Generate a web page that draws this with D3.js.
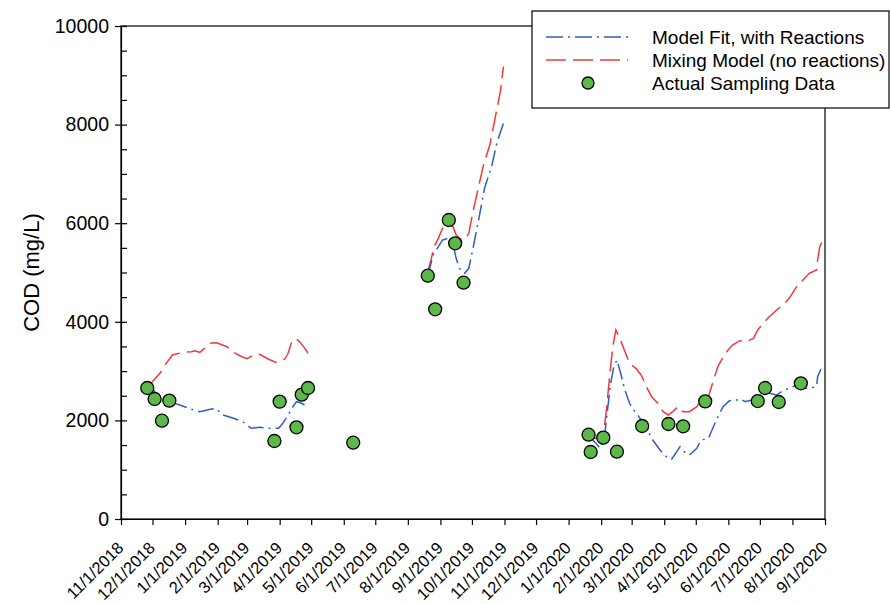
<!DOCTYPE html>
<html>
<head>
<meta charset="utf-8">
<script src="https://cdn.jsdelivr.net/npm/d3@7"></script>
<style>
  body { margin: 0; background: #fff; }
  svg text { font-family: "Liberation Sans", Arial, sans-serif; fill: #000; }
</style>
</head>
<body>
<div class="chart"></div>
<script>
// sampled COD values
var sampleDates = ["2018-11-26","2018-12-03","2018-12-10","2018-12-17","2019-03-27","2019-04-01","2019-04-17","2019-04-22","2019-04-28","2019-06-10",
    "2019-08-20","2019-08-27","2019-09-09","2019-09-15","2019-09-23",
    "2020-01-20","2020-01-22","2020-02-03","2020-02-16","2020-03-11","2020-04-05","2020-04-19","2020-05-10","2020-06-29","2020-07-06","2020-07-19","2020-08-09"];
var sampleCOD = [2657,2434,1994,2400,1582,2380,1860,2522,2657,1548,
    4935,4254,6065,5592,4793,
    1710,1359,1650,1365,1886,1927,1880,2387,2393,2657,2373,2753];

// model fit, with reactions (three runs)
var fitDates = [
    ["2018-11-27","2018-11-30","2018-12-08","2018-12-17","2018-12-27","2019-01-07","2019-01-15","2019-01-25","2019-01-30","2019-02-06","2019-02-16","2019-02-25","2019-03-05","2019-03-13","2019-03-23","2019-03-31","2019-04-04","2019-04-08","2019-04-11","2019-04-14","2019-04-17","2019-04-22","2019-04-27","2019-04-28"],
    ["2019-08-20","2019-08-25","2019-08-30","2019-09-03","2019-09-08","2019-09-13","2019-09-16","2019-09-19","2019-09-24","2019-09-28","2019-10-02","2019-10-07","2019-10-13","2019-10-20","2019-10-25","2019-10-31"],
    ["2020-01-20","2020-01-27","2020-01-31","2020-02-04","2020-02-07","2020-02-10","2020-02-13","2020-02-16","2020-02-20","2020-02-23","2020-02-28","2020-03-04","2020-03-09","2020-03-15","2020-03-21","2020-03-28","2020-04-03","2020-04-08","2020-04-13","2020-04-16","2020-04-20","2020-04-25","2020-05-02","2020-05-06","2020-05-13","2020-05-22","2020-05-27","2020-06-02","2020-06-09","2020-06-13","2020-06-17","2020-06-23","2020-06-29","2020-07-04","2020-07-10","2020-07-17","2020-07-23","2020-07-29","2020-08-05","2020-08-11","2020-08-17","2020-08-24","2020-08-25","2020-08-28","2020-09-01"]
];
var fitCOD = [
    [2657,2651,2481,2380,2312,2225,2177,2225,2245,2110,2042,1974,1840,1860,1840,1840,1941,2075,2177,2292,2380,2347,2278,2245],
    [4935,5355,5523,5659,5693,5558,5288,5085,4984,5085,5491,6030,6708,7180,7653,8026],
    [1700,1535,1434,1636,2211,2752,3090,3225,2921,2651,2347,2177,2042,1840,1602,1400,1264,1211,1365,1467,1365,1298,1434,1602,1636,2075,2278,2400,2414,2434,2380,2414,2481,2583,2549,2515,2603,2651,2718,2651,2651,2684,2887,3036,3050]
];

// mixing model, no reactions (three runs)
var mixDates = [
    ["2018-11-27","2018-11-30","2018-12-08","2018-12-14","2018-12-20","2018-12-30","2019-01-07","2019-01-10","2019-01-15","2019-01-25","2019-01-31","2019-02-10","2019-02-16","2019-02-24","2019-03-01","2019-03-07","2019-03-13","2019-03-21","2019-03-28","2019-04-01","2019-04-06","2019-04-09","2019-04-12","2019-04-16","2019-04-20","2019-04-25","2019-04-28"],
    ["2019-08-20","2019-08-23","2019-08-26","2019-08-30","2019-09-03","2019-09-08","2019-09-13","2019-09-16","2019-09-21","2019-09-25","2019-09-28","2019-10-02","2019-10-07","2019-10-12","2019-10-18","2019-10-23","2019-10-28","2019-10-31"],
    ["2020-01-20","2020-01-26","2020-01-31","2020-02-03","2020-02-06","2020-02-09","2020-02-12","2020-02-15","2020-02-18","2020-02-23","2020-02-28","2020-03-05","2020-03-10","2020-03-15","2020-03-20","2020-03-26","2020-03-31","2020-04-05","2020-04-09","2020-04-14","2020-04-19","2020-04-25","2020-05-02","2020-05-06","2020-05-13","2020-05-18","2020-05-22","2020-05-29","2020-06-05","2020-06-12","2020-06-18","2020-06-25","2020-06-29","2020-07-04","2020-07-10","2020-07-17","2020-07-23","2020-07-29","2020-08-05","2020-08-11","2020-08-17","2020-08-24","2020-08-25","2020-08-27","2020-08-30","2020-09-01"]
];
var mixCOD = [
    [2700,2765,2955,3158,3327,3381,3394,3414,3381,3564,3576,3495,3381,3292,3252,3327,3341,3245,3179,3191,3245,3361,3564,3665,3597,3462,3361],
    [5017,5254,5523,5693,5896,5963,5929,5761,5659,5693,5795,6233,6708,7180,7586,8128,8667,9175],
    [1704,1636,1636,1704,2211,2886,3495,3834,3698,3428,3158,3057,2921,2684,2481,2347,2177,2110,2177,2278,2177,2177,2278,2414,2481,2819,3090,3361,3529,3617,3597,3665,3834,3969,4104,4239,4341,4477,4712,4848,4984,5051,5254,5523,5659,5700]
];

var yTicks = [0, 2000, 4000, 6000, 8000, 10000];
var legendLabels = ["Model Fit, with Reactions", "Mixing Model (no reactions)", "Actual Sampling Data"];

var svgWidth = 890;
var svgHeight = 604;
var margin = { top: 26, right: 65, bottom: 85, left: 121 };
var width = svgWidth - margin.left - margin.right;
var height = svgHeight - margin.top - margin.bottom;

var blue = "#2f5fbf";
var red = "#f03a3a";
var green = "#5cb848";

var parseDate = d3.timeParse("%Y-%m-%d");

var svg = d3.select(".chart")
    .append("svg")
    .attr("width", svgWidth)
    .attr("height", svgHeight);

var chartGroup = svg.append("g")
    .attr("transform", `translate(${margin.left}, ${margin.top})`);

var xScale = d3.scaleTime()
    .domain([parseDate("2018-11-01"), parseDate("2020-09-01")])
    .range([0, width]);

var yScale = d3.scaleLinear()
    .domain([0, 10000])
    .range([height, 0]);

// frame
chartGroup.append("rect")
    .attr("width", width)
    .attr("height", height)
    .attr("fill", "none")
    .attr("stroke", "#000")
    .attr("stroke-width", 1.2);

// x axis
var bottomAxis = d3.axisBottom(xScale)
    .ticks(d3.timeMonth.every(1))
    .tickFormat(d3.timeFormat("%-m/%-d/%Y"))
    .tickSizeInner(6)
    .tickSizeOuter(0);

var xAxis = chartGroup.append("g")
    .attr("transform", `translate(0, ${height})`)
    .call(bottomAxis);
xAxis.select(".domain").attr("stroke-width", 1.2);
xAxis.selectAll(".tick line").attr("stroke-width", 1.2);
xAxis.selectAll("text")
    .style("font-size", "16.5px")
    .attr("text-anchor", "end")
    .attr("x", 0)
    .attr("y", 0)
    .attr("dy", 0)
    .attr("transform", "translate(3, 30) rotate(-45)");

// y axis: minor ticks inside, major ticks crossing
var yMinor = d3.axisRight(yScale)
    .tickValues(d3.range(0, 10001, 500))
    .tickSize(6)
    .tickFormat("");
chartGroup.append("g").call(yMinor)
    .call(g => g.select(".domain").remove())
    .selectAll("line").attr("stroke-width", 1.2);

var leftAxis = d3.axisLeft(yScale)
    .tickValues(yTicks)
    .tickFormat(d3.format("d"))
    .tickSizeInner(6)
    .tickSizeOuter(0)
    .tickPadding(6);
var yAxis = chartGroup.append("g").call(leftAxis);
yAxis.select(".domain").attr("stroke-width", 1.2);
yAxis.selectAll(".tick line").attr("stroke-width", 1.2);
yAxis.selectAll("text").style("font-size", "19.5px");

// y axis label
chartGroup.append("text")
    .attr("transform", "rotate(-90)")
    .attr("x", -height / 2)
    .attr("y", -margin.left + 39)
    .attr("text-anchor", "middle")
    .style("font-size", "22px")
    .text("COD (mg/L)");

var line = d3.line()
    .x(d => xScale(d.date))
    .y(d => yScale(d.value));

function toRuns(dates, values) {
    return dates.map((run, i) => run.map((d, j) => ({ date: parseDate(d), value: values[i][j] })));
}

chartGroup.selectAll(".mix")
    .data(toRuns(mixDates, mixCOD))
    .enter()
    .append("path")
    .attr("class", "mix")
    .attr("d", line)
    .attr("fill", "none")
    .attr("stroke", red)
    .attr("stroke-width", 1.5)
    .attr("stroke-dasharray", "20,7");

chartGroup.selectAll(".fit")
    .data(toRuns(fitDates, fitCOD))
    .enter()
    .append("path")
    .attr("class", "fit")
    .attr("d", line)
    .attr("fill", "none")
    .attr("stroke", blue)
    .attr("stroke-width", 1.5)
    .attr("stroke-dasharray", "16,5,2,5");

chartGroup.selectAll("circle")
    .data(sampleDates.map((d, i) => ({ date: parseDate(d), value: sampleCOD[i] })))
    .enter()
    .append("circle")
    .attr("cx", d => xScale(d.date))
    .attr("cy", d => yScale(d.value))
    .attr("r", 6.5)
    .attr("fill", green)
    .attr("stroke", "#000")
    .attr("stroke-width", 1.3);

// legend
var legend = svg.append("g").attr("transform", "translate(532, 11)");
legend.append("rect")
    .attr("width", 357)
    .attr("height", 97)
    .attr("fill", "#fff")
    .attr("stroke", "#000")
    .attr("stroke-width", 1.2);

legend.append("line")
    .attr("x1", 14).attr("x2", 96).attr("y1", 26).attr("y2", 26)
    .attr("stroke", blue).attr("stroke-width", 1.5)
    .attr("stroke-dasharray", "17,5,2,5");
legend.append("line")
    .attr("x1", 14).attr("x2", 96).attr("y1", 49).attr("y2", 49)
    .attr("stroke", red).attr("stroke-width", 1.5)
    .attr("stroke-dasharray", "20,7");
legend.append("circle")
    .attr("cx", 56).attr("cy", 72).attr("r", 6)
    .attr("fill", green).attr("stroke", "#000").attr("stroke-width", 1.3);

legend.selectAll(".legend-text")
    .data(legendLabels)
    .enter()
    .append("text")
    .attr("class", "legend-text")
    .attr("x", 120)
    .attr("y", (d, i) => 33 + i * 23)
    .style("font-size", "19px")
    .text(d => d);
</script>
</body>
</html>
